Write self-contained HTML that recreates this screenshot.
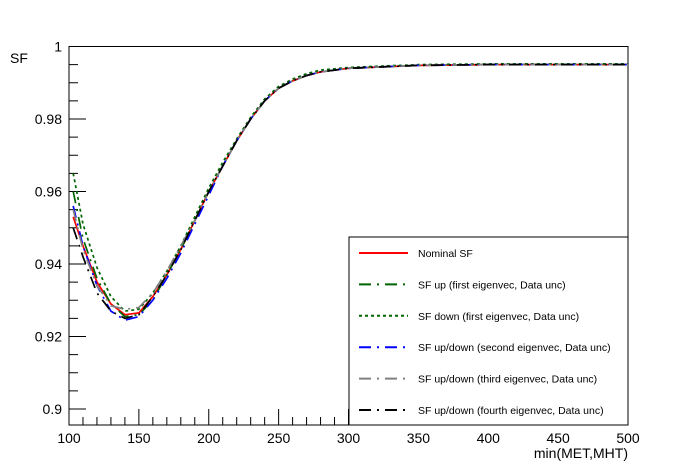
<!DOCTYPE html>
<html><head><meta charset="utf-8"><style>body{margin:0;background:#fff}svg{display:block;font-family:"Liberation Sans",sans-serif}</style></head>
<body>
<svg id="c" width="698" height="474"></svg>
<script>
const xs=[103,110,120,130,140,150,160,170,180,190,200,210,220,230,240,250,260,270,280,300,350,400,450,500];
const nominal=[0.953,0.945,0.935,0.929,0.926,0.9265,0.931,0.937,0.944,0.952,0.960,0.967,0.974,0.980,0.985,0.9885,0.9905,0.992,0.993,0.994,0.9948,0.995,0.995,0.995];
const upFirst=[0.960,0.947,0.936,0.929,0.9255,0.926,0.930,0.937,0.944,0.952,0.960,0.967,0.974,0.980,0.985,0.9885,0.9905,0.992,0.993,0.994,0.9948,0.995,0.995,0.995];
const downFirst=[0.965,0.951,0.939,0.931,0.927,0.9275,0.932,0.938,0.945,0.953,0.961,0.968,0.9745,0.9805,0.9855,0.989,0.991,0.9925,0.9935,0.9942,0.995,0.9952,0.9952,0.9952];
const second=[0.956,0.945,0.934,0.927,0.9245,0.9255,0.930,0.936,0.943,0.951,0.959,0.967,0.974,0.980,0.985,0.9885,0.9905,0.992,0.993,0.994,0.9948,0.995,0.995,0.995];
const third=[0.955,0.944,0.934,0.9285,0.9275,0.928,0.932,0.938,0.945,0.952,0.960,0.967,0.974,0.980,0.985,0.9885,0.9905,0.992,0.993,0.994,0.9948,0.995,0.995,0.995];
const fourth=[0.950,0.942,0.932,0.927,0.925,0.926,0.931,0.937,0.944,0.952,0.960,0.967,0.974,0.980,0.985,0.9885,0.9905,0.992,0.993,0.994,0.9948,0.995,0.995,0.995];
const xTicks=[100,150,200,250,300,350,400,450,500];
const yTicks=[0.9,0.92,0.94,0.96,0.98,1];
const yTickLabels=["0.9","0.92","0.94","0.96","0.98","1"];
const series=[
 {name:"nominal-sf",vals:nominal,color:"#ff0000",dash:"",label:"Nominal SF"},
 {name:"sf-up-first",vals:upFirst,color:"#006400",dash:"12 6 2 6",label:"SF up (first eigenvec, Data unc)"},
 {name:"sf-down-first",vals:downFirst,color:"#006400",dash:"3 3",label:"SF down (first eigenvec, Data unc)"},
 {name:"sf-second",vals:second,color:"#0000ff",dash:"12 6 2 6",label:"SF up/down (second eigenvec, Data unc)"},
 {name:"sf-third",vals:third,color:"#808080",dash:"12 6 2 6",label:"SF up/down (third eigenvec, Data unc)"},
 {name:"sf-fourth",vals:fourth,color:"#000000",dash:"12 6 2 6",label:"SF up/down (fourth eigenvec, Data unc)"}];
const X0=69,X1=628,YT=46.5,YB=425;
const sx=v=>X0+(v-100)*(X1-X0)/400;
const sy=v=>409-(v-0.9)*3625;
const svg=document.getElementById('c');const NS="http://www.w3.org/2000/svg";
function mk(t,a,p){const e=document.createElementNS(NS,t);for(const k in a)e.setAttribute(k,a[k]);(p||svg).appendChild(e);return e;}
const frame=mk('rect',{x:X0,y:YT,width:X1-X0,height:YB-YT,fill:'none',stroke:'#000'});


for(let v=100;v<=500;v+=10){const big=v%50===0;const t=mk('line',{x1:sx(v),x2:sx(v),y1:YB,y2:YB-(big?16:8),stroke:'#000'});

}
xTicks.forEach(v=>{const t=mk('text',{x:sx(v),y:443,'font-size':14,'text-anchor':'middle'});t.textContent=v;

});
for(let i=0;i<=21;i++){const v=0.895+i*0.005;const y=sy(v);if(y>YB+0.5||y<YT-0.5)continue;const big=Math.abs(((v*1000)%20))<0.01||Math.abs(((v*1000)%20)-20)<0.01;
const t=mk('line',{x1:X0,x2:X0+(big?17:9),y1:y,y2:y,stroke:'#000'});

}
yTicks.forEach((v,i)=>{const t=mk('text',{x:62,y:sy(v)+5,'font-size':14,'text-anchor':'end'});t.textContent=yTickLabels[i];

});
const xt=mk('text',{x:628,y:458,'font-size':14,'text-anchor':'end'});xt.textContent='min(MET,MHT)';


const yt=mk('text',{x:10,y:63,'font-size':14});yt.textContent='SF';


series.forEach(s=>{const d=s.vals.map((v,i)=>(i?'L':'M')+sx(xs[i]).toFixed(1)+','+sy(v).toFixed(1)).join(' ');
const p=mk('path',{d:d,fill:'none',stroke:s.color,'stroke-width':1.7,'stroke-dasharray':s.dash});

});
const lg=mk('g',{});


mk('rect',{x:349,y:237,width:279,height:188,fill:'#fff',stroke:'#000'},lg);
series.forEach((s,i)=>{const y=253+i*31.4;
const l=mk('line',{x1:359,x2:408,y1:y,y2:y,stroke:s.color,'stroke-width':2,'stroke-dasharray':s.dash},lg);


const t=mk('text',{x:418,y:y+4,'font-size':10.5},lg);t.textContent=s.label;

});
</script>
</body></html>
